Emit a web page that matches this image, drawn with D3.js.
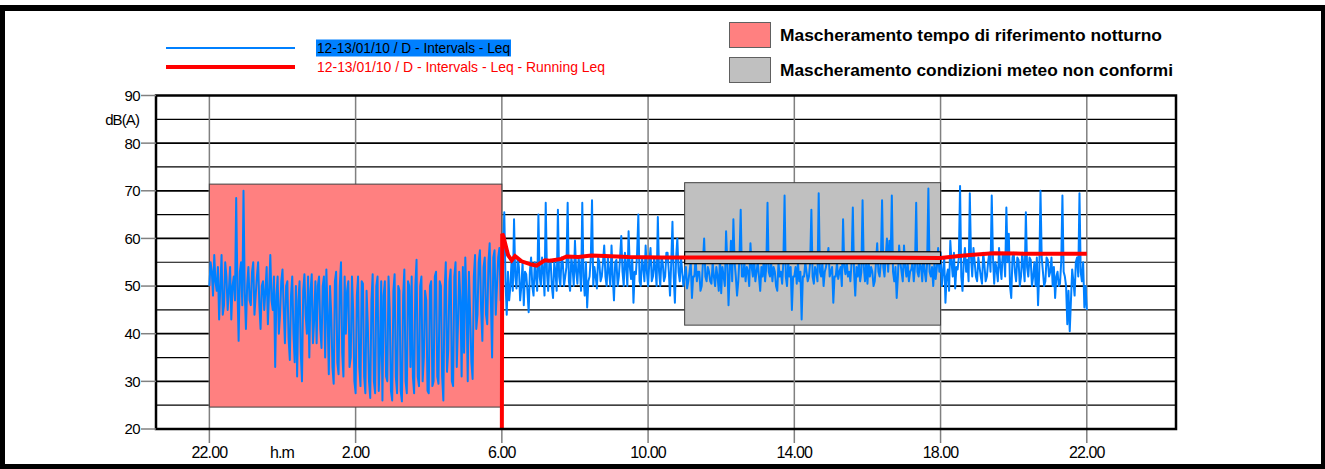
<!DOCTYPE html>
<html>
<head>
<meta charset="utf-8">
<script src="https://cdn.jsdelivr.net/npm/d3@7"></script>
<style>
  body { margin: 0; background: #fff; }
  svg { display: block; }
  text { font-family: "Liberation Sans", Arial, sans-serif; }
</style>
</head>
<body>
<svg id="chart" width="1325" height="469"></svg>
<script>
// time is in hours counted from 22:00 of 12/01
var tickHours = [0, 4, 8, 12, 16, 20, 24];
var tickLabels = ["22.00", "2.00", "6.00", "10.00", "14.00", "18.00", "22.00"];
var yTicks = [20, 30, 40, 50, 60, 70, 80, 90];
var gridLevels = [25, 30, 35, 40, 45, 50, 55, 60, 65, 70, 75, 80, 85];

var seriesNames = ["12-13/01/10 / D - Intervals - Leq", "12-13/01/10 / D - Intervals - Leq - Running Leq"];
var maskNames = ["Mascheramento tempo di riferimento notturno", "Mascheramento condizioni meteo non conformi"];
var maskStart = [0, 13];
var maskEnd = [8, 20];
var maskTop = [71.4, 71.7];
var maskBottom = [24.6, 41.8];
var meteoBand = [54.7, 57.2];

// Leq intervals: samples at 0, 4, 8 ... minutes of every hour (15 per hour)
var leqStepMin = 4;
var leq = [
  50, 53, 56.5, 49, 43, 56.5, 46, 52, 49, 43, 52, 68.5, 38.5, 55, 70,
  41, 54, 46, 55, 48, 55, 41, 51, 49, 42, 56.5, 45, 33, 52, 44,
  53.5, 38, 51, 34.5, 52, 34, 31, 51, 30, 52.5, 40, 35, 52.5, 43, 38,
  52, 37, 52, 53.5, 31.5, 44, 29.5, 53, 31.5, 55, 31, 40, 51, 35, 45,
  27.5, 52, 29, 50.5, 27.5, 42, 26.5, 52.5, 27.5, 52, 36, 26, 51, 30, 45,
  26, 52.5, 27.5, 49, 25.8, 53.5, 27.5, 50, 52, 27.5, 55.5, 29, 52, 35, 47,
  27.5, 51, 30, 53, 29.5, 50, 26, 55, 36.5, 53.5, 29, 55, 42, 47, 54,
  56, 30, 44, 30.5, 56.5, 44, 57.5, 38.5, 56, 42, 59, 35, 57.5, 50, 58,
  55, 65.5, 44, 47, 55.5, 64, 49.5, 54, 50, 46, 52.5, 44.5, 56, 48, 52,
  65, 50, 53, 67.5, 49, 55.5, 47.5, 53, 66, 50, 55, 52, 67.5, 49, 54,
  59.5, 50.5, 53.5, 67.5, 48, 45.5, 52, 68, 54, 49.5, 55, 52, 58.5, 50, 53,
  58.5, 47, 55.5, 52, 60.5, 50, 54, 61.5, 51.5, 46.5, 52.5, 65, 50, 54, 58.5,
  50, 58, 52, 53.5, 64.5, 50, 55, 52, 57, 48, 63.5, 46.5, 60, 51, 53,
  52, 49.5, 53, 47.5, 52, 51, 53, 50, 60, 51, 53, 50.5, 52, 54, 49,
  48.5, 52, 61.5, 46, 59.5, 64, 52, 51, 66, 52, 51, 53, 59, 52, 51,
  55, 49, 52, 51, 67.5, 52, 51, 53, 49, 52, 50.5, 69, 50, 52, 45,
  52, 50.5, 51, 43, 52, 53, 52, 66, 50.5, 53, 69.5, 52, 50, 54, 58,
  53, 46.5, 52, 51.5, 54, 64, 52.5, 52, 51, 66.5, 48, 52, 51, 68, 51,
  50.5, 52, 53, 51, 59, 52, 68, 52, 60, 59.5, 69, 51, 47.5, 58.5, 53,
  58.5, 52, 51, 53.5, 51, 67.5, 52, 54, 57, 51, 70.5, 52, 50, 51.5, 58,
  57, 53, 46.5, 53.5, 59.5, 52, 49.5, 53.5, 71, 49, 58, 55.5, 69.5, 52, 55,
  51, 54, 50.5, 54.5, 52, 57, 69, 50.5, 53.5, 58, 51.5, 56.5, 66.5, 61, 47.5,
  57, 51, 55.5, 52, 54, 65.5, 52, 55.5, 52, 50, 46, 70, 53, 51, 55.5,
  53, 50, 47.5, 53, 50.5, 69, 52, 42, 40.5, 53.5, 48, 56, 69.5, 51, 45.5,
  45
];
// samples in between: at 2, 6, 10 ... minutes of every hour
var leqMid = [
  55, 48, 51, 54, 50, 44, 55, 45, 54, 50, 47, 50, 53, 46, 49,
  50, 47, 53, 44, 52, 46, 50, 45, 54, 49, 47, 52, 48, 40, 51,
  45, 50, 39, 48, 40, 50, 47, 36, 49, 44, 52, 49, 38, 51, 50,
  41, 50, 35, 44, 50, 33, 51, 34, 50, 36, 52, 49, 33, 52, 30,
  48, 33, 51, 31, 49, 30, 47, 30, 50, 28, 51, 48, 31, 52, 28,
  49, 31, 50, 28, 48, 30, 51, 33, 31, 50, 31, 50, 30, 49, 28,
  50, 29, 52, 31, 51, 31, 49, 32, 51, 30, 52, 33, 53, 31, 36,
  47, 53, 34, 52, 41, 55, 45, 54, 44, 55, 47, 56, 44, 56, 47,
  58, 51, 53, 50, 49, 52, 56, 47, 55, 53, 49, 53, 50, 55, 49,
  52, 56, 48, 53, 55, 50, 55, 49, 52, 56, 50, 54, 51, 56, 50,
  53, 56, 49, 52, 55, 51, 56, 50, 52, 56, 51, 55, 52, 56, 50,
  52, 55, 50, 56, 53, 57, 50, 54, 56, 53, 57, 51, 56, 51, 53,
  55, 51, 56, 50, 53, 56, 51, 57, 53, 55, 52, 56, 53, 56, 50,
  54, 51, 55, 52, 56, 53, 49, 55, 52, 54, 51, 55, 50, 52, 56,
  54, 50, 55, 53, 51, 55, 48, 56, 52, 55, 54, 50, 54, 56, 53,
  52, 54, 56, 54, 53, 55, 54, 50, 55, 53, 55, 52, 55, 54, 52,
  54, 55, 53, 52, 55, 51, 55, 52, 54, 51, 53, 55, 53, 56, 52,
  54, 52, 55, 53, 50, 54, 55, 53, 55, 53, 54, 55, 53, 54, 55,
  55, 54, 50, 55, 53, 55, 54, 56, 53, 55, 53, 54, 52, 55, 51,
  54, 55, 53, 55, 54, 53, 55, 51, 53, 55, 53, 54, 55, 54, 53,
  50, 56, 52, 49, 55, 57, 54, 56, 52, 55, 53, 51, 56, 58, 52,
  56, 52, 57, 51, 55, 53, 56, 55, 51, 54, 57, 52, 55, 50, 56,
  53, 56, 50, 57, 51, 54, 56, 50, 55, 56, 53, 56, 50, 56, 52,
  56, 54, 52, 50, 55, 53, 50, 49, 47, 51, 55, 52, 53, 55, 50
];

// running Leq from 6:00
var runHours = [8, 8.01, 8.04, 8.17, 8.27, 8.36, 8.54, 8.81, 8.95, 9.09, 9.18, 9.31, 9.63, 9.77,
  10.09, 10.45, 10.82, 11.46, 12.37, 14, 16, 18, 20, 20.5, 20.8, 21.44, 22.26, 23.17, 24];
var runLeq = [20, 61, 60.5, 56.5, 55.4, 56.3, 55.2, 54.5, 54.3, 55, 55.4, 55.3, 55.7, 56.2,
  56.1, 56.4, 56.3, 56.1, 56, 56, 56, 56, 55.9, 56.3, 56.5, 56.9, 56.8, 56.8, 56.8];

var svg = d3.select("#chart");
var plotLeft = 156, plotRight = 1176, plotTop = 95.5, plotBottom = 429;

var x = d3.scaleLinear().domain([-1.46, 26.44]).range([plotLeft, plotRight]);
var y = d3.scaleLinear().domain([20, 90]).range([plotBottom, plotTop]);

// outer frame
svg.append("rect")
    .attr("x", 2).attr("y", 8)
    .attr("width", 1322).attr("height", 459)
    .attr("fill", "none").attr("stroke", "#000").attr("stroke-width", 6);

svg.append("defs").append("clipPath").attr("id", "plotclip")
  .append("rect").attr("x", plotLeft).attr("y", plotTop)
    .attr("width", plotRight - plotLeft).attr("height", plotBottom - plotTop);

// horizontal grid
svg.append("g").selectAll("line")
    .data(gridLevels)
    .enter().append("line")
      .attr("x1", plotLeft).attr("x2", plotRight)
      .attr("y1", function(d) { return y(d); })
      .attr("y2", function(d) { return y(d); })
      .attr("stroke", "#000")
      .attr("stroke-width", function(d) { return d % 10 == 0 ? 1.8 : 1.2; });

// vertical grid + tick marks below
svg.append("g").selectAll("line")
    .data(tickHours)
    .enter().append("line")
      .attr("x1", function(d) { return x(d); })
      .attr("x2", function(d) { return x(d); })
      .attr("y1", plotTop).attr("y2", plotBottom + 14)
      .attr("stroke", "#808080").attr("stroke-width", 1.5);

// masks
var masks = maskNames.map(function(n, i) {
  return { name: n, start: maskStart[i], end: maskEnd[i], top: maskTop[i], bottom: maskBottom[i] };
});
var maskColor = ["#ff8080", "#c0c0c0"];

svg.append("g").selectAll("rect")
    .data(masks)
    .enter().append("rect")
      .attr("x", function(d) { return x(d.start); })
      .attr("y", function(d) { return y(d.top); })
      .attr("width", function(d) { return x(d.end) - x(d.start); })
      .attr("height", function(d) { return y(d.bottom) - y(d.top); })
      .attr("fill", function(d, i) { return maskColor[i]; })
      .attr("stroke", "#404040").attr("stroke-width", 1);

// Leq intervals, merge both sample sets in time order
var leqData = [];
leq.forEach(function(v, i) {
  leqData.push([i * leqStepMin / 60, v]);
  if (i < leqMid.length) leqData.push([(i * leqStepMin + 2) / 60, leqMid[i]]);
});
var line = d3.line()
    .x(function(d) { return x(d[0]); })
    .y(function(d) { return y(d[1]); });

svg.append("path")
    .datum(leqData)
    .attr("clip-path", "url(#plotclip)")
    .attr("d", line)
    .attr("fill", "none")
    .attr("stroke", "#0080ff")
    .attr("stroke-width", 2)
    .attr("stroke-linejoin", "round");

// band inside meteo mask
svg.append("rect")
    .attr("x", x(maskStart[1]))
    .attr("y", y(meteoBand[1]))
    .attr("width", x(maskEnd[1]) - x(maskStart[1]))
    .attr("height", y(meteoBand[0]) - y(meteoBand[1]))
    .attr("fill", "#c0c0c0")
    .attr("stroke", "#000").attr("stroke-width", 1.2);

// running Leq
var runData = runHours.map(function(h, i) { return [h, runLeq[i]]; });
svg.append("path")
    .datum(runData)
    .attr("clip-path", "url(#plotclip)")
    .attr("d", line)
    .attr("fill", "none")
    .attr("stroke", "#ff0000")
    .attr("stroke-width", 4);

// plot border
svg.append("rect")
    .attr("x", plotLeft).attr("y", plotTop)
    .attr("width", plotRight - plotLeft).attr("height", plotBottom - plotTop)
    .attr("fill", "none").attr("stroke", "#000").attr("stroke-width", 2.5);

// y axis ticks and labels
var yAxis = svg.append("g");
yAxis.selectAll("line")
    .data(yTicks)
    .enter().append("line")
      .attr("x1", plotLeft - 15).attr("x2", plotLeft)
      .attr("y1", function(d) { return y(d); })
      .attr("y2", function(d) { return y(d); })
      .attr("stroke", "#808080").attr("stroke-width", 1.5);
yAxis.selectAll("text")
    .data(yTicks)
    .enter().append("text")
      .attr("x", plotLeft - 16)
      .attr("y", function(d) { return y(d); })
      .attr("dy", "0.36em")
      .attr("text-anchor", "end")
      .style("font-size", "15px")
      .style("letter-spacing", "-0.6px")
      .text(function(d) { return d; });
svg.append("text")
    .attr("x", 139).attr("y", y(85))
    .attr("dy", "0.36em")
    .attr("text-anchor", "end")
    .style("font-size", "15px")
    .style("letter-spacing", "-0.9px")
    .text("dB(A)");

// x labels
svg.append("g").selectAll("text")
    .data(tickHours)
    .enter().append("text")
      .attr("x", function(d) { return x(d); })
      .attr("y", 458)
      .attr("text-anchor", "middle")
      .style("font-size", "16px")
      .style("letter-spacing", "-0.9px")
      .text(function(d, i) { return tickLabels[i]; });
svg.append("text")
    .attr("x", 282).attr("y", 458)
    .attr("text-anchor", "middle")
    .style("font-size", "16px")
    .style("letter-spacing", "-0.9px")
    .text("h.m");

// series legend
var legColor = ["#0080ff", "#ff0000"];
var legY = [48, 67];
var legWidth = [2, 4];
var legTextLen = [193, 288];
svg.append("rect")
    .attr("x", 316).attr("y", 39.5).attr("width", 195).attr("height", 17)
    .attr("fill", "#0080ff");
seriesNames.forEach(function(n, i) {
  svg.append("line")
      .attr("x1", 166).attr("x2", 295)
      .attr("y1", legY[i]).attr("y2", legY[i])
      .attr("stroke", legColor[i]).attr("stroke-width", legWidth[i]);
  svg.append("text")
      .attr("x", 317).attr("y", legY[i])
      .attr("dy", "0.36em")
      .attr("textLength", legTextLen[i])
      .attr("lengthAdjust", "spacingAndGlyphs")
      .style("font-size", "15px")
      .attr("fill", i == 0 ? "#000" : "#ff0000")
      .text(n);
});

// mask legend
var boxY = [22, 57];
var maskTextLen = [382, 393];
masks.forEach(function(m, i) {
  svg.append("rect")
      .attr("x", 729.5).attr("y", boxY[i] + 0.5)
      .attr("width", 41).attr("height", 25)
      .attr("fill", maskColor[i])
      .attr("stroke", "#606060").attr("stroke-width", 1);
  svg.append("text")
      .attr("x", 780).attr("y", boxY[i] + 13)
      .attr("dy", "0.36em")
      .attr("textLength", maskTextLen[i])
      .attr("lengthAdjust", "spacingAndGlyphs")
      .style("font-size", "16.5px")
      .style("font-weight", "bold")
      .text(m.name);
});
</script>
</body>
</html>
